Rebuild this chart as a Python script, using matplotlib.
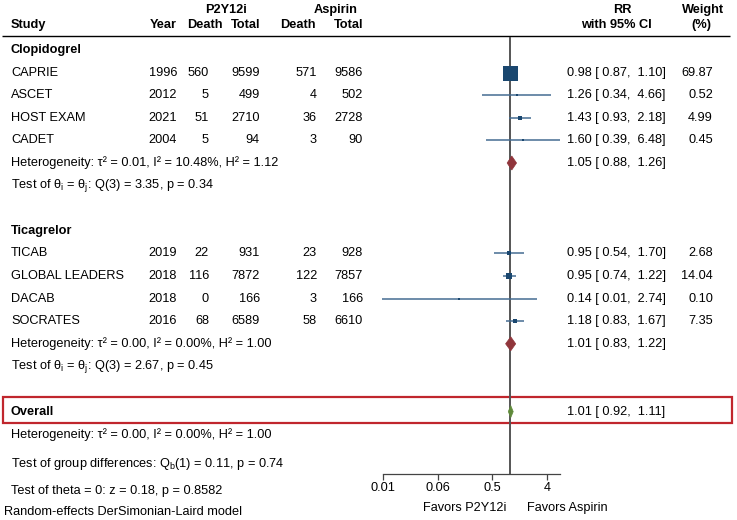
import numpy as np
import matplotlib
matplotlib.use("Agg")
import matplotlib.pyplot as plt
from matplotlib.patches import Rectangle, Polygon

plt.rcParams['font.family'] = ['Liberation Sans', 'DejaVu Sans']
plt.rcParams['mathtext.default'] = 'regular'

# ---------------- data ----------------
groups = ["Clopidogrel", "Ticagrelor"]
studies = [
    ["CAPRIE", "ASCET", "HOST EXAM", "CADET"],
    ["TICAB", "GLOBAL LEADERS", "DACAB", "SOCRATES"],
]
years = [[1996, 2012, 2021, 2004], [2019, 2018, 2018, 2016]]
p2y_death = [[560, 5, 51, 5], [22, 116, 0, 68]]
p2y_total = [[9599, 499, 2710, 94], [931, 7872, 166, 6589]]
asa_death = [[571, 4, 36, 3], [23, 122, 3, 58]]
asa_total = [[9586, 502, 2728, 90], [928, 7857, 166, 6610]]
rr = [[0.98, 1.26, 1.43, 1.60], [0.95, 0.95, 0.14, 1.18]]
ci_lo = [[0.87, 0.34, 0.93, 0.39], [0.54, 0.74, 0.0074, 0.83]]
ci_hi = [[1.10, 4.66, 2.18, 6.48], [1.70, 1.22, 2.74, 1.67]]
weights = [[69.87, 0.52, 4.99, 0.45], [2.68, 14.04, 0.10, 7.35]]

sub_rr = [1.05, 1.01]
sub_lo = [0.88, 0.83]
sub_hi = [1.26, 1.22]
sub_het = ["Heterogeneity: τ² = 0.01, I² = 10.48%, H² = 1.12",
           "Heterogeneity: τ² = 0.00, I² = 0.00%, H² = 1.00"]
sub_test = ["Test of θ$_{i}$ = θ$_{j}$: Q(3) = 3.35, p = 0.34",
            "Test of θ$_{i}$ = θ$_{j}$: Q(3) = 2.67, p = 0.45"]

overall_rr, overall_lo, overall_hi = 1.01, 0.92, 1.11
overall_het = "Heterogeneity: τ² = 0.00, I² = 0.00%, H² = 1.00"
group_diff = "Test of group differences: Q$_{b}$(1) = 0.11, p = 0.74"
theta_test = "Test of theta = 0: z = 0.18, p = 0.8582"
model_note = "Random-effects DerSimonian-Laird model"

tick_vals = [2**-7, 2**-4, 2**-1, 2**2]
tick_labels = ["0.01", "0.06", "0.5", "4"]
favors = ["Favors P2Y12i", "Favors Aspirin"]

# ---------------- styles ----------------
FS = 9.2
SQ_COL = "#1a476f"
CI_COL = "#456c92"
SUB_COL = "#90353b"
OV_COL = "#5f8a3a"
NULL_COL = "#555555"
BOX_COL = "#c0262d"

W, H = 737, 520
fig = plt.figure(figsize=(W / 100, H / 100), dpi=100)
ax0 = fig.add_axes([0, 0, 1, 1])
ax0.set_xlim(0, W)
ax0.set_ylim(H, 0)
ax0.axis("off")

def row_y(k):
    return 50 + 22.6 * k

# column positions (pixels)
X_STUDY = 11
X_YEAR = 177
X_PD = 209
X_PT = 260
X_AD = 317
X_AT = 363
X_RR = 567
X_W = 713

# headers
bold = dict(fontsize=FS, fontweight="bold", va="center")
ax0.text(226, 10, "P2Y12i", ha="center", **bold)
ax0.text(336, 10, "Aspirin", ha="center", **bold)
ax0.text(X_STUDY, 25, "Study", ha="left", **bold)
ax0.text(X_YEAR, 25, "Year", ha="right", **bold)
ax0.text(223, 25, "Death", ha="right", **bold)
ax0.text(X_PT, 25, "Total", ha="right", **bold)
ax0.text(316, 25, "Death", ha="right", **bold)
ax0.text(X_AT, 25, "Total", ha="right", **bold)
ax0.text(622, 10, "RR", ha="center", **bold)
ax0.text(616, 25, "with 95% CI", ha="center", **bold)
ax0.text(703, 10, "Weight", ha="center", **bold)
ax0.text(701, 25, "(%)", ha="center", **bold)
ax0.plot([2, 730], [36, 36], color="black", lw=1.0, solid_capstyle="butt")

# forest axes (log scale)
px_per_dec = 60.5
x_ref_px = 383  # pixel of first tick
ax_l, ax_r = 380, 562
top_px, bot_px = 37, 474
xlo = tick_vals[0] * 10 ** ((ax_l - x_ref_px) / px_per_dec)
xhi = tick_vals[0] * 10 ** ((ax_r - x_ref_px) / px_per_dec)
axf = fig.add_axes([ax_l / W, (H - bot_px) / H, (ax_r - ax_l) / W, (bot_px - top_px) / H])
axf.set_xscale("log")
axf.set_xlim(xlo, xhi)
axf.set_ylim(bot_px, top_px)
axf.patch.set_alpha(0)
for s in ["top", "left", "right"]:
    axf.spines[s].set_visible(False)
axf.spines["bottom"].set_bounds(tick_vals[0], max(max(h) for h in ci_hi))
axf.spines["bottom"].set_color("#444444")
axf.spines["bottom"].set_linewidth(0.9)
axf.set_yticks([])
axf.set_xticks(tick_vals)
axf.set_xticklabels(tick_labels, fontsize=FS)
axf.minorticks_off()
axf.tick_params(axis="x", length=4, width=0.9, color="#444444", pad=2)
axf.axvline(1.0, color=NULL_COL, lw=1.4, zorder=1)

k = 0
for g in range(2):
    ax0.text(X_STUDY, row_y(k), groups[g], ha="left", fontsize=FS, fontweight="bold", va="center")
    k += 1
    for i in range(4):
        y = row_y(k)
        ax0.text(X_STUDY, y, studies[g][i], ha="left", va="center", fontsize=FS)
        ax0.text(X_YEAR, y, str(years[g][i]), ha="right", va="center", fontsize=FS)
        ax0.text(X_PD, y, str(p2y_death[g][i]), ha="right", va="center", fontsize=FS)
        ax0.text(X_PT, y, str(p2y_total[g][i]), ha="right", va="center", fontsize=FS)
        ax0.text(X_AD, y, str(asa_death[g][i]), ha="right", va="center", fontsize=FS)
        ax0.text(X_AT, y, str(asa_total[g][i]), ha="right", va="center", fontsize=FS)
        ax0.text(X_RR, y, "{:.2f} [{:5.2f}, {:5.2f}]".format(rr[g][i], ci_lo[g][i], ci_hi[g][i]),
                 ha="left", va="center", fontsize=FS)
        ax0.text(X_W, y, "{:.2f}".format(weights[g][i]), ha="right", va="center", fontsize=FS)
        axf.plot([ci_lo[g][i], ci_hi[g][i]], [y, y], color=CI_COL, lw=1.1, zorder=2,
                 solid_capstyle="butt", clip_on=False)
        ms = max(10.8 * np.sqrt(weights[g][i] / weights[0][0]), 2.1)
        if weights[g][i] >= 1:
            ms = max(ms, 2.9)
        axf.plot([rr[g][i]], [y], marker="s", ms=ms, color=SQ_COL, mec=SQ_COL, mew=0,
                 zorder=3, clip_on=False)
        k += 1
    y = row_y(k)
    ax0.text(X_STUDY, y, sub_het[g], ha="left", va="center", fontsize=FS)
    ax0.text(X_RR, y, "{:.2f} [{:5.2f}, {:5.2f}]".format(sub_rr[g], sub_lo[g], sub_hi[g]),
             ha="left", va="center", fontsize=FS)
    hh = 7
    axf.add_patch(Polygon([[sub_lo[g], y], [sub_rr[g], y - hh], [sub_hi[g], y], [sub_rr[g], y + hh]],
                          closed=True, facecolor=SUB_COL, edgecolor=SUB_COL, lw=0.5, zorder=4))
    k += 1
    ax0.text(X_STUDY, row_y(k), sub_test[g], ha="left", va="center", fontsize=FS)
    k += 2

# overall
y = row_y(k)
ax0.add_patch(Rectangle((3, 397), 729, 26, fill=False, edgecolor=BOX_COL, lw=1.6, zorder=0))
ax0.text(X_STUDY, y, "Overall", ha="left", va="center", fontsize=FS, fontweight="bold")
ax0.text(X_RR, y, "{:.2f} [{:5.2f}, {:5.2f}]".format(overall_rr, overall_lo, overall_hi),
         ha="left", va="center", fontsize=FS)
hh = 6
axf.add_patch(Polygon([[overall_lo, y], [overall_rr, y - hh], [overall_hi, y], [overall_rr, y + hh]],
                      closed=True, facecolor=OV_COL, edgecolor=OV_COL, lw=0.5, zorder=4))
ax0.text(X_STUDY, row_y(k + 1), overall_het, ha="left", va="center", fontsize=FS)
ax0.text(X_STUDY, 464, group_diff, ha="left", va="center", fontsize=FS)
ax0.text(X_STUDY, 491, theta_test, ha="left", va="center", fontsize=FS)
ax0.text(4, 512, model_note, ha="left", va="center", fontsize=FS)

ax0.text(465, 508, favors[0], ha="center", va="center", fontsize=FS)
ax0.text(567, 508, favors[1], ha="center", va="center", fontsize=FS)

fig.savefig("out.png", dpi=100)
